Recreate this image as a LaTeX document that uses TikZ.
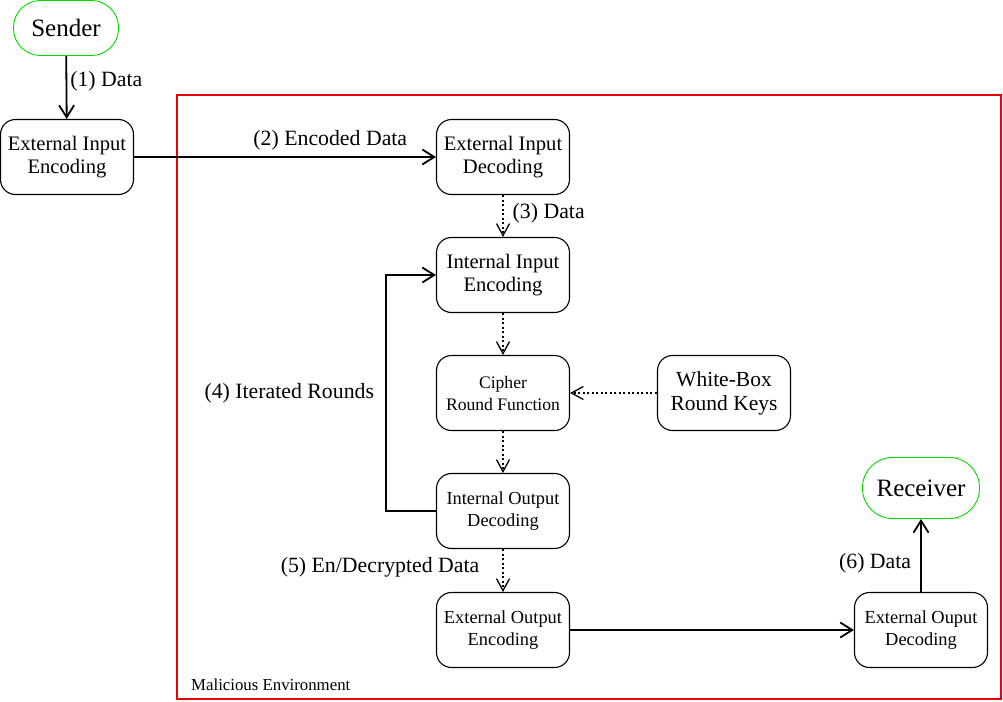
\documentclass[tikz,border=0pt]{standalone}
\usepackage{fontspec}
\setmainfont{Liberation Serif}
\usetikzlibrary{arrows.meta}
\definecolor{termgreen}{RGB}{0,220,0}
\definecolor{envred}{RGB}{235,0,0}
\begin{document}
\begin{tikzpicture}[x=1pt,y=-1pt,
  box/.style={draw, rounded corners=15pt, minimum width=133pt, minimum height=75pt,
    align=center, line width=1.1pt, inner sep=0pt, font=\fontsize{20.6}{23}\selectfont},
  keybox/.style={box, font=\fontsize{21.5}{24}\selectfont},
  smallbox/.style={box, font=\fontsize{18.4}{22}\selectfont},
  cipherbox/.style={box, font=\fontsize{17.6}{22}\selectfont},
  terminal/.style={draw=termgreen, rounded corners=27pt, minimum width=105pt, minimum height=55pt,
    line width=0.9pt, inner sep=0pt, font=\fontsize{25}{28}\selectfont},
  flow/.style={line width=1.8pt, -{Straight Barb[length=12pt,width=15pt,line width=1.8pt]}},
  dflow/.style={line width=1.4pt, dash pattern=on 2pt off 2.5pt, -{Straight Barb[length=12pt,width=13pt,line width=1.3pt,sep=0pt]}},
  lbl/.style={font=\fontsize{21.8}{24}\selectfont, inner sep=3pt}
]
\useasboundingbox (0,0) rectangle (1003,701);
\draw[envred, line width=1.5pt] (177,95) rectangle (1001,699);
\node[anchor=west, font=\fontsize{16.8}{18}\selectfont, inner sep=0pt] (env) at (191,685) {Malicious Environment};

\node[terminal] (sender) at (66,28) {Sender};
\node[box] (eie) at (67,157) {External Input\\Encoding};
\node[box] (eid) at (503,157) {External Input\\Decoding};
\node[box] (iie) at (503,275) {Internal Input\\Encoding};
\node[cipherbox] (crf) at (503,393) {Cipher\\Round Function};
\node[keybox] (wbk) at (724,393) {White-Box\\Round Keys};
\node[smallbox] (iod) at (503,511) {Internal Output\\Decoding};
\node[smallbox] (eoe) at (503,630) {External Output\\Encoding};
\node[smallbox] (eod) at (921,630) {External Ouput\\Decoding};
\node[terminal, minimum width=117pt, minimum height=61pt, rounded corners=30pt] (recv) at (921,488) {Receiver};

\draw[flow] (sender) -- (eie) node[lbl, pos=0.4, right] (l1) {(1) Data};
\draw[flow] (eie) -- (eid) node[lbl, pos=0.65, above, yshift=3pt] (l2) {(2) Encoded Data};
\draw[dflow] (eid) -- (iie) node[lbl, pos=0.43, right, xshift=6pt] (l3) {(3) Data};
\draw[dflow] (iie) -- (crf);
\draw[dflow] (wbk) -- (crf);
\draw[dflow] (crf) -- (iod);
\draw[flow] (iod.west) -- ++(-50,0) |- (iie.west)
  node[lbl, pos=0.25, left, xshift=-8pt] (l4) {(4) Iterated Rounds};
\draw[dflow] (iod) -- (eoe) node[lbl, pos=0.43, left, xshift=-20pt] (l5) {(5) En/Decrypted Data};
\draw[flow] (eoe) -- (eod);
\draw[flow] (eod) -- (recv) node[lbl, pos=0.4, left, xshift=-6pt] (l6) {(6) Data};
\end{tikzpicture}
\end{document}
